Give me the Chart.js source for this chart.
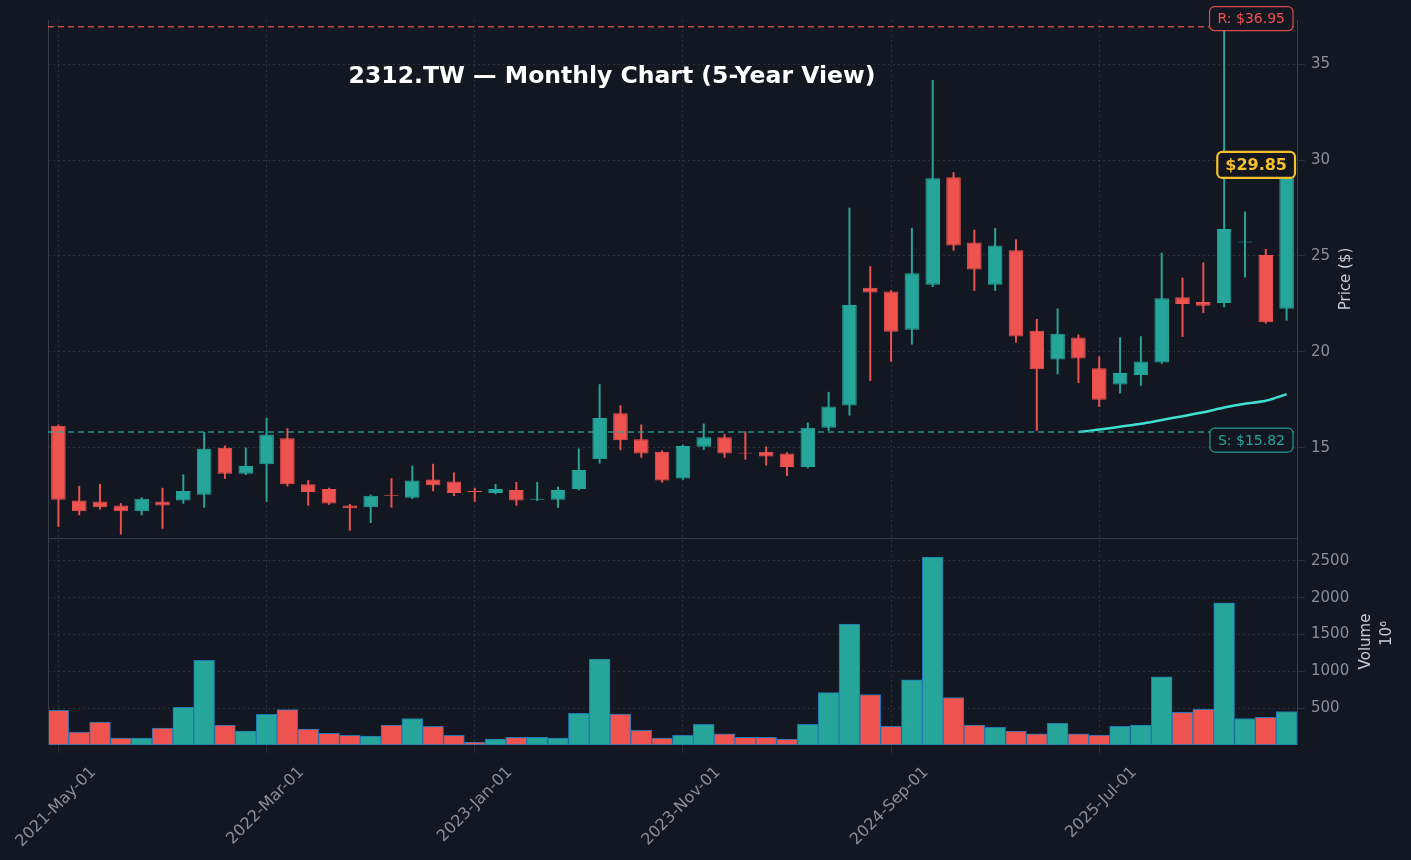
<!DOCTYPE html>
<html><head><meta charset="utf-8">
<script src="https://cdn.jsdelivr.net/npm/chart.js@4"></script>
<style>html,body{margin:0;background:#131722;}#w{width:1411px;height:860px;}</style>
</head><body><div id="w"><canvas id="c"></canvas></div>
<script>
const months=['Jan','Feb','Mar','Apr','May','Jun','Jul','Aug','Sep','Oct','Nov','Dec'];
const labels=[];for(let i=0;i<60;i++){const m=(4+i)%12,y=2021+Math.floor((4+i)/12);labels.push(y+'-'+months[m]+'-01');}
const opens=[16.15,12.25,12.2,12.0,11.7,12.2,12.25,12.55,15.0,13.65,14.15,15.5,13.1,12.85,12.0,11.9,12.55,12.4,13.35,13.25,12.75,12.65,12.8,12.3,12.3,12.85,14.4,16.8,15.45,14.8,13.4,15.05,15.55,14.75,14.8,14.7,14.0,16.05,17.2,23.35,23.15,21.15,23.5,29.1,25.7,23.5,25.3,21.1,19.6,20.75,19.15,18.3,18.8,19.45,22.85,22.6,22.55,25.7,25.05,22.25];
const highs=[16.2,13.0,13.1,12.1,12.4,12.9,13.6,15.8,15.1,15.0,16.55,16.0,13.3,12.9,12.05,12.55,13.4,14.05,14.15,13.7,12.9,13.1,13.2,13.2,12.95,14.95,18.3,17.2,16.2,14.85,15.15,16.25,15.7,15.85,15.05,14.75,16.3,17.9,27.5,24.45,23.2,26.45,34.15,29.35,26.35,26.45,25.85,21.7,22.25,20.9,19.75,20.75,20.8,25.15,23.85,24.65,36.95,27.3,25.35,29.9];
const lows=[10.9,11.5,11.8,10.5,11.5,10.8,12.1,11.9,13.4,13.6,12.2,13.0,12.0,12.05,10.7,11.1,11.9,12.35,12.75,12.5,12.2,12.6,12.0,12.25,11.9,12.8,14.2,14.9,14.5,13.2,13.35,14.9,14.5,14.4,14.1,13.55,13.95,15.9,16.7,18.5,19.5,20.4,23.4,25.3,23.2,23.2,20.5,15.9,18.85,18.4,17.15,17.85,18.25,19.4,20.8,22.05,22.35,23.9,21.5,21.65];
const closes=[12.3,11.7,11.9,11.7,12.35,12.0,12.75,14.95,13.65,14.05,15.7,13.1,12.7,12.1,11.85,12.5,12.5,13.3,13.05,12.65,12.7,12.85,12.25,12.35,12.8,13.85,16.55,15.4,14.7,13.3,15.1,15.55,14.7,14.7,14.55,14.0,16.05,17.15,22.45,23.1,21.05,24.1,29.05,25.55,24.3,25.55,20.8,19.1,20.95,19.65,17.5,18.9,19.5,22.8,22.5,22.4,26.4,25.75,21.55,29.85];
const volumes=[470,175,310,95,95,230,510,1150,270,190,415,480,215,160,130,120,270,360,255,130,40,80,105,105,95,430,1165,420,200,95,130,280,150,105,105,80,280,710,1640,685,255,885,2550,645,270,240,190,150,295,150,135,255,270,925,445,485,1930,360,375,455];
const maValues=[15.82,15.95,16.1,16.25,16.45,16.65,16.85,17.1,17.3,17.45,17.8];
const resistance=36.95, support=15.82, lastPrice=29.85;
const UP='#26a69a', DN='#ef5350';
const col=closes.map((c,i)=>c>=opens[i]?UP:DN);
const ma=labels.map((_,i)=>i>=49?maValues[i-49]:null);
const overlay={id:'ov',afterDatasetsDraw(ch){
  const c=ch.ctx,a=ch.chartArea,y=ch.scales.y,yv=ch.scales.yv;
  c.save();
  c.strokeStyle='#3a3e48';c.lineWidth=1;c.beginPath();c.moveTo(a.left,y.bottom+0.5);c.lineTo(a.right,y.bottom+0.5);c.stroke();
  c.beginPath();c.moveTo(a.left+0.5,a.top);c.lineTo(a.left+0.5,a.bottom);c.stroke();
  c.beginPath();c.moveTo(a.right+0.5,a.top);c.lineTo(a.right+0.5,a.bottom);c.stroke();
  c.setLineDash([6,4]);c.lineWidth=1.5;
  let ry=y.getPixelForValue(resistance);c.strokeStyle='rgba(239,83,80,0.8)';c.beginPath();c.moveTo(a.left,ry);c.lineTo(a.right,ry);c.stroke();
  let sy=y.getPixelForValue(support);c.strokeStyle='rgba(38,166,154,0.85)';c.beginPath();c.moveTo(a.left,sy);c.lineTo(a.right,sy);c.stroke();
  c.setLineDash([]);
  function box(t,x,yy,fg,bd,fs,bold,lw){c.font=(bold?'bold ':'')+fs+'px "DejaVu Sans"';const w=c.measureText(t).width+16,h=fs+10;
    c.fillStyle='#131722';c.strokeStyle=bd;c.lineWidth=lw;c.beginPath();c.roundRect(x-w,yy-h/2,w,h,5);c.fill();c.stroke();
    c.fillStyle=fg;c.textAlign='center';c.textBaseline='middle';c.fillText(t,x-w/2,yy+1);}
  box('R: $'+resistance.toFixed(2),a.right-4,ry-8,'#ef5350','rgba(239,83,80,0.9)',14,false,1.2);
  box('S: $'+support.toFixed(2),a.right-4,sy+8,'#26a69a','rgba(38,166,154,0.9)',14,false,1.2);
  box('$'+lastPrice.toFixed(2),a.right-2,y.getPixelForValue(lastPrice)+2,'#f5c02b','#f5c02b',16,true,2.2);
  c.font='bold 23.5px "DejaVu Sans"';c.fillStyle='#ffffff';c.textAlign='center';c.textBaseline='middle';
  c.fillText('2312.TW — Monthly Chart (5-Year View)',612,77);
  c.font='15px "DejaVu Sans"';c.fillStyle='#c8ccd4';
  function vt(t,x,yy){c.save();c.translate(x,yy);c.rotate(-Math.PI/2);c.fillText(t,0,0);c.restore();}
  vt('Price ($)',1346,(y.top+y.bottom)/2);
  vt('Volume',1366,(yv.top+yv.bottom)/2);
  vt('10⁶',1387,(yv.top+yv.bottom)/2-8);
  c.restore();}};
const gridC='rgba(70,75,90,0.5)';
const tickFont={size:15,family:'DejaVu Sans'};
new Chart(document.getElementById('c'),{
  data:{labels,datasets:[
    {type:'bar',data:labels.map((_,i)=>[lows[i],highs[i]]),backgroundColor:col,barThickness:1.3,grouped:false,yAxisID:'y',order:3},
    {type:'bar',data:labels.map((_,i)=>[opens[i],closes[i]]),backgroundColor:col,borderColor:col,borderWidth:1,borderSkipped:false,barPercentage:0.7,categoryPercentage:1,grouped:false,yAxisID:'y',order:2},
    {type:'line',data:ma,borderColor:'#3fe0d0',borderWidth:2.5,pointRadius:0,tension:0.3,yAxisID:'y',order:1},
    {type:'bar',data:volumes,backgroundColor:col,borderColor:'#1f77b4',borderWidth:1,borderSkipped:false,barPercentage:1,categoryPercentage:1,grouped:false,yAxisID:'yv',order:4}
  ]},
  options:{responsive:true,maintainAspectRatio:false,animation:false,
    layout:{padding:{left:48,right:0,top:20,bottom:0}},
    plugins:{legend:{display:false},tooltip:{enabled:false}},
    scales:{
      x:{offset:true,grid:{offset:false,color:c=>c.index%10===0?gridC:'transparent'},border:{display:false,dash:[2,3]},
        afterFit:ax=>{ax.height=115;ax.paddingLeft=0;ax.paddingRight=0;},
        ticks:{autoSkip:false,maxRotation:45,minRotation:45,labelOffset:35,padding:10,color:'#8a8f99',font:{size:16,family:'DejaVu Sans'},callback:(v,i)=>i%10===0?labels[i]:''}},
      y:{position:'right',stack:'s',stackWeight:518,min:10.3,max:37.3,
        afterBuildTicks:ax=>{ax.ticks=[15,20,25,30,35].map(v=>({value:v}));},
        afterFit:ax=>{ax.width=114;ax.paddingTop=0;ax.paddingBottom=0;},
        grid:{color:gridC},border:{display:false,dash:[2,3]},
        ticks:{color:'#8a8f99',font:tickFont,padding:6}},
      yv:{position:'right',stack:'s',stackWeight:207,min:0,max:2810,offset:false,
        afterBuildTicks:ax=>{ax.ticks=[500,1000,1500,2000,2500].map(v=>({value:v}));},
        afterFit:ax=>{ax.width=114;ax.paddingTop=0;ax.paddingBottom=0;},
        grid:{color:gridC},border:{display:false,dash:[2,3]},
        ticks:{color:'#8a8f99',font:tickFont,padding:6,callback:v=>String(v)}}
    }},
  plugins:[overlay]
});
</script></body></html>
